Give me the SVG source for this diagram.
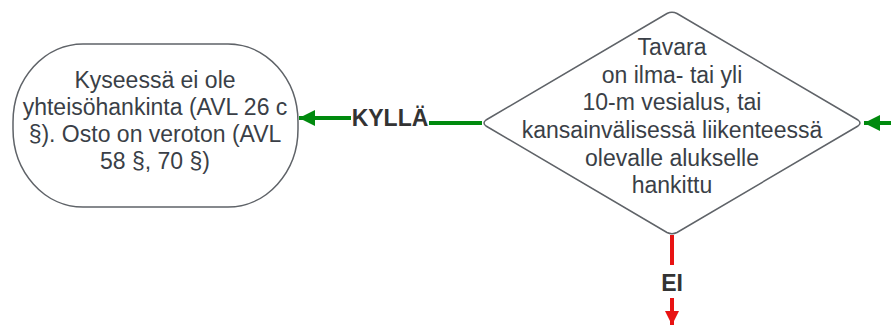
<svg xmlns="http://www.w3.org/2000/svg" width="891" height="325" viewBox="0 0 891 325">
<style>
.shape{fill:#fff;stroke:#5f6368;stroke-width:1.5}
.t{font-family:"Liberation Sans",Arial,sans-serif;font-size:23px;fill:#3a3f47;text-anchor:middle}
.lbl{font-family:"Liberation Sans",Arial,sans-serif;font-size:23px;font-weight:bold;fill:#333;text-anchor:middle}
.g{stroke:#008a0e;stroke-width:4;fill:none}
.r{stroke:#e81313;stroke-width:4;fill:none}
</style>
<defs>
<marker id="ag" viewBox="0 0 10 10" refX="10" refY="5" markerWidth="5" markerHeight="4" orient="auto" markerUnits="strokeWidth"><path d="M0,0 L10,5 L0,10 Z" fill="#008a0e"/></marker>
<marker id="ar" viewBox="0 0 10 10" refX="10" refY="5" markerWidth="4" markerHeight="3.5" orient="auto" markerUnits="strokeWidth"><path d="M0,0 L10,5 L0,10 Z" fill="#e81313"/></marker>
</defs>
<g id="connectors">
<path class="g" d="M482,123 H429"/>
<path class="g" d="M351,118 H299" marker-end="url(#ag)"/>
<text class="lbl" x="390" y="126">KYLLÄ</text>
<path class="g" d="M891,123 H864" marker-end="url(#ag)"/>
<path class="r" d="M672,235 V265"/>
<path class="r" d="M672,298 V325" marker-end="url(#ar)"/>
<text class="lbl" x="672" y="291">EI</text>
</g>
<g id="result">
<rect class="shape" x="13" y="44" width="285" height="163" rx="70" ry="78"/>
<text class="t" x="155" y="88">Kyseessä ei ole</text>
<text class="t" x="155" y="115">yhteisöhankinta (AVL 26 c</text>
<text class="t" x="155" y="142">§). Osto on veroton (AVL</text>
<text class="t" x="155" y="169">58 §, 70 §)</text>
</g>
<g id="decision">
<path class="shape" d="M667,13.5 Q672,11 677,13.5 L858,120 Q862,123 858,126 L677,232.5 Q672,235 667,232.5 L486,126 Q482,123 486,120 Z"/>
<text class="t" x="672" y="55">Tavara</text>
<text class="t" x="672" y="83">on ilma- tai yli</text>
<text class="t" x="672" y="110">10-m vesialus, tai</text>
<text class="t" x="672" y="138">kansainvälisessä liikenteessä</text>
<text class="t" x="672" y="166">olevalle alukselle</text>
<text class="t" x="672" y="193">hankittu</text>
</g>
</svg>
